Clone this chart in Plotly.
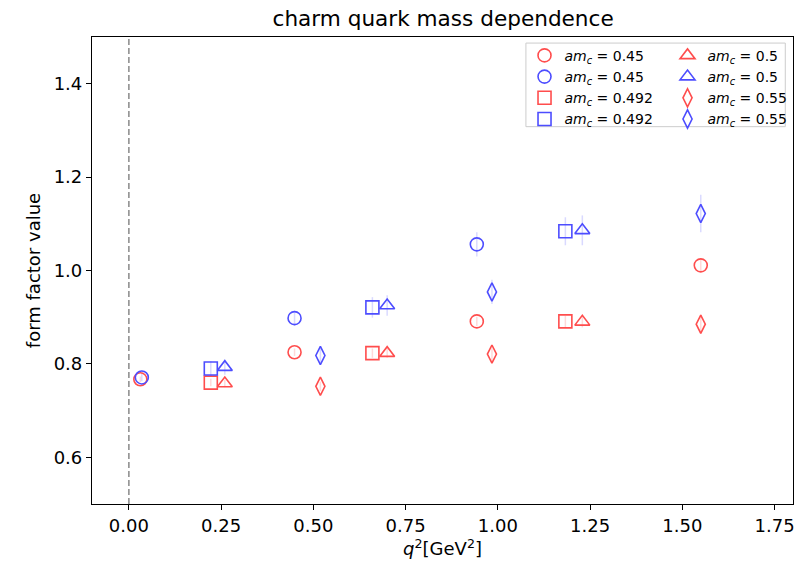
import plotly.graph_objects as go

# ---- data ----
q2_045 = [0.031, 0.449, 0.943, 1.55]
red_045 = [0.767, 0.825, 0.891, 1.011]
red_045_err = [0.006, 0.008, 0.010, 0.014]
q2_045b = [0.035, 0.449, 0.943]
blue_045 = [0.771, 0.898, 1.056]
blue_045_err = [0.008, 0.016, 0.026]

q2_0492 = [0.222, 0.660, 1.183]
red_0492 = [0.760, 0.823, 0.891]
red_0492_err = [0.008, 0.010, 0.012]
blue_0492 = [0.790, 0.921, 1.084]
blue_0492_err = [0.016, 0.022, 0.030]

q2_05 = [0.260, 0.700, 1.229]
red_05 = [0.758, 0.823, 0.890]
red_05_err = [0.008, 0.010, 0.012]
blue_05 = [0.793, 0.925, 1.086]
blue_05_err = [0.016, 0.022, 0.032]

q2_055 = [0.519, 0.984, 1.55]
red_055 = [0.752, 0.821, 0.885]
red_055_err = [0.010, 0.014, 0.020]
blue_055 = [0.818, 0.954, 1.122]
blue_055_err = [0.014, 0.026, 0.040]

x_ticks = [0, 0.25, 0.5, 0.75, 1.0, 1.25, 1.5, 1.75]
x_ticktext = ["0.00", "0.25", "0.50", "0.75", "1.00", "1.25", "1.50", "1.75"]
y_ticks = [0.6, 0.8, 1.0, 1.2, 1.4]
y_ticktext = ["0.6", "0.8", "1.0", "1.2", "1.4"]

RED = "#ff4d4d"
BLUE = "#4d4dff"
RED_E = "rgba(255,0,0,0.15)"
BLUE_E = "rgba(0,0,255,0.15)"

def lab(v):
    return f"<i>am</i><sub><i>c</i></sub> = {v}"

fig = go.Figure()

def add(x, y, e, color, ecolor, symbol, name, legend):
    fig.add_trace(go.Scatter(
        x=x, y=y, mode="markers", name=name, legend=legend,
        marker=dict(symbol=symbol, size=13, color=color,
                    line=dict(color=color, width=1.6)),
        error_y=dict(type="data", array=e, color=ecolor, thickness=1.5, width=0),
    ))

add(q2_045, red_045, red_045_err, RED, RED_E, "circle-open", lab("0.45"), "legend")
add(q2_045b, blue_045, blue_045_err, BLUE, BLUE_E, "circle-open", lab("0.45"), "legend")
add(q2_0492, red_0492, red_0492_err, RED, RED_E, "square-open", lab("0.492"), "legend")
add(q2_0492, blue_0492, blue_0492_err, BLUE, BLUE_E, "square-open", lab("0.492"), "legend")
add(q2_05, red_05, red_05_err, RED, RED_E, "triangle-up-open", lab("0.5"), "legend2")
add(q2_05, blue_05, blue_05_err, BLUE, BLUE_E, "triangle-up-open", lab("0.5"), "legend2")
add(q2_055, red_055, red_055_err, RED, RED_E, "diamond-tall-open", lab("0.55"), "legend2")
add(q2_055, blue_055, blue_055_err, BLUE, BLUE_E, "diamond-tall-open", lab("0.55"), "legend2")

fig.add_vline(x=0, line=dict(color="#777777", width=1.3, dash="6px,3px"))

fig.add_shape(type="rect", xref="paper", yref="paper",
              x0=0.619, x1=0.989, y0=0.808, y1=0.987,
              line=dict(color="#cccccc", width=1), fillcolor="rgba(255,255,255,0.8)",
              layer="above")

axis_common = dict(showline=True, linecolor="black", linewidth=1.2, mirror=True,
                   ticks="outside", ticklen=5, tickcolor="black", showgrid=False,
                   zeroline=False, tickfont=dict(size=18, color="black"))

fig.update_layout(
    width=797, height=567,
    margin=dict(l=92, r=2, t=37, b=63),
    plot_bgcolor="white", paper_bgcolor="white",
    font=dict(family="DejaVu Sans", color="black"),
    title=dict(text="charm quark mass dependence", x=0.556, xanchor="center",
               y=0.968, yanchor="middle", font=dict(size=21.6)),
    xaxis=dict(range=[-0.1, 1.8], tickvals=x_ticks, ticktext=x_ticktext,
               title=dict(text="<i>q</i><sup>2</sup>[GeV<sup>2</sup>]", font=dict(size=18), standoff=4),
               **axis_common),
    yaxis=dict(range=[0.5, 1.5], tickvals=y_ticks, ticktext=y_ticktext,
               title=dict(text="form factor value", font=dict(size=18), standoff=8),
               **axis_common),
    legend=dict(x=0.617, y=0.994, xanchor="left", yanchor="top", bgcolor="rgba(0,0,0,0)",
                font=dict(size=14), tracegroupgap=0, itemwidth=30),
    legend2=dict(x=0.821, y=0.994, xanchor="left", yanchor="top", bgcolor="rgba(0,0,0,0)",
                 font=dict(size=14), tracegroupgap=0, itemwidth=30),
    showlegend=True,
)

fig.write_html("out.html")
